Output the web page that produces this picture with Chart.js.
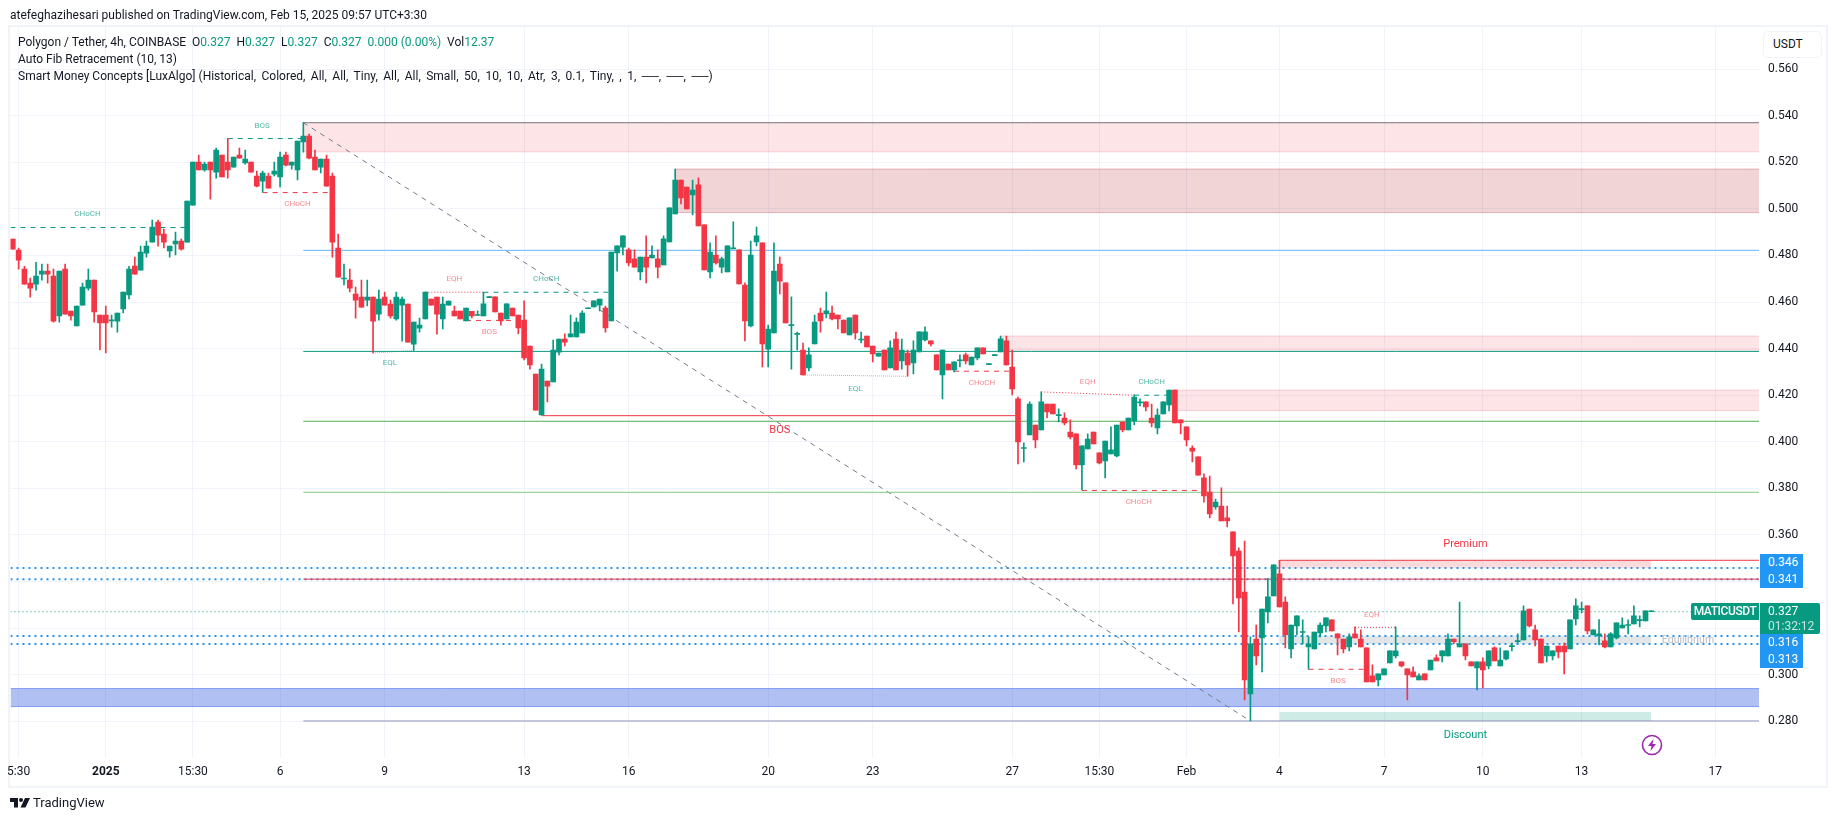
<!DOCTYPE html>
<html>
<head>
<meta charset="utf-8">
<title>MATICUSDT</title>
<script src="https://cdn.jsdelivr.net/npm/chart.js@4"></script>
<style>
    html, body { margin: 0; padding: 0; background: #fff; }
    body { width: 1835px; height: 821px; position: relative; overflow: hidden; font-family: Roboto, sans-serif; font-size: 12px; color: #131722; }
    #chart { position: absolute; left: 0; top: 0; }
    .txt { position: absolute; white-space: nowrap; line-height: 16px; }
    .g { color: #089981; }
    .frame { position: absolute; left: 8px; top: 25px; width: 1816px; height: 759px; border: 2px solid #f0f3fa; }
    .unit { position: absolute; left: 1763px; top: 31px; width: 57px; height: 25px; border: 1px solid #f0f3fa; border-radius: 5px; line-height: 25px; text-indent: 9px; background: #fff; }
    .tag { position: absolute; left: 1760px; width: 43px; height: 17px; line-height: 17px; background: #2196f3; color: #fff; text-indent: 8px; }
    .last { position: absolute; left: 1760px; top: 603px; width: 60px; height: 31px; background: #089981; color: #fff; padding: 1px 0 0 8px; border-radius: 0 2px 2px 0; line-height: 15px; box-sizing: border-box; }
    .last span { color: #c4e6df; }
    .sym { position: absolute; left: 1691px; top: 603px; width: 68px; height: 17px; line-height: 17px; background: #089981; color: #fff; text-align: center; font-weight: 500; letter-spacing: -0.4px; border-radius: 2px 0 0 2px; }
</style>
</head>
<body>
<div class="frame"></div>
<canvas id="chart" width="1835" height="821"></canvas>

<div class="txt" style="left:10px;top:7px">atefeghazihesari published on TradingView.com, Feb 15, 2025 09:57 UTC+3:30</div>
<div class="txt" style="left:18px;top:34px">Polygon / Tether, 4h, COINBASE &nbsp;O<span class="g">0.327</span> &nbsp;H<span class="g">0.327</span> &nbsp;L<span class="g">0.327</span> &nbsp;C<span class="g">0.327</span> &nbsp;<span class="g">0.000 (0.00%)</span> &nbsp;Vol<span class="g">12.37</span></div>
<div class="txt" style="left:18px;top:51px">Auto Fib Retracement (10, 13)</div>
<div class="txt" style="left:18px;top:68px">Smart Money Concepts [LuxAlgo] <span style="word-spacing:2.5px">(Historical, Colored, All, All, Tiny, All, All, Small, 50, 10, 10, Atr, 3, 0.1, Tiny, , 1, ──, ──, ──)</span></div>

<div class="unit">USDT</div>
<div class="tag" style="top:554px">0.346</div>
<div class="tag" style="top:571px">0.341</div>
<div class="tag" style="top:634px">0.316</div>
<div class="tag" style="top:651px">0.313</div>
<div class="sym">MATICUSDT</div>
<div class="last">0.327<br><span>01:32:12</span></div>

<svg style="position:absolute;left:1640px;top:733px" width="24" height="24" viewBox="0 0 24 24">
    <circle cx="12" cy="12" r="9.5" fill="#fff" stroke="#9c27b0" stroke-width="1.6"/>
    <path d="M13.5 6 L8 13 H11.5 L10.5 18 L16 11 H12.5 Z" fill="#9c27b0"/>
</svg>
<svg style="position:absolute;left:10px;top:798px" width="20" height="10" viewBox="0 0 20 10">
    <path d="M0 0 H8 V9.5 H4 V4 H0 Z M15 0 H20 L15.5 9.5 H10.5 Z" fill="#131722"/>
    <circle cx="11" cy="2" r="2" fill="#131722"/>
</svg>
<div class="txt" style="left:33px;top:795px;font-size:13px">TradingView</div>

<script>
// candles, oldest first
const opens = [
    .4870,.4823,.4741,.4681,.4677,.4720,.4733,.4711,.4540,.4741,.4561,.4497,.4587,.4660,.4694,.4544,.4544,.4519,.4518,.4570,
    .4630,.4754,.4737,.4810,.4857,.4943,.4892,.4819,.4849,.4862,.4857,.5016,.5201,.5167,.5201,.5158,.5231,.5201,.5179,.5231,
    .5197,.5201,.5141,.5119,.5141,.5149,.5137,.5231,.5188,.5167,.5287,.5313,.5222,.5179,.5214,.5141,.4832,.4699,.4694,.4634,
    .4621,.4608,.4621,.4548,.4621,.4591,.4527,.4587,.4591,.4419,.4488,.4527,.4613,.4621,.4527,.4587,.4561,.4561,.4519,.4560,
    .4542,.4540,.4619,.4622,.4553,.4527,.4574,.4544,.4523,.4411,.4291,.4115,.4261,.4257,.4385,.4441,.4450,.4450,.4467,.4571,
    .4579,.4587,.4574,.4519,.4811,.4836,.4824,.4785,.4729,.4793,.4789,.4785,.4759,.4858,.4978,.5124,.5094,.5060,.5103,.4931,
    .4729,.4802,.4750,.4729,.4828,.4824,.4673,.4497,.4858,.4854,.4398,.4467,.4763,.4682,.4499,.4461,.4394,.4317,.4420,.4553,
    .4549,.4553,.4544,.4523,.4459,.4544,.4437,.4454,.4411,.4368,.4394,.4317,.4441,.4347,.4381,.4338,.4386,.4437,.4433,.4373,
    .4287,.4334,.4308,.4348,.4373,.4330,.4360,.4403,.4331,.4370,.4386,.4433,.4321,.4184,.3971,.4029,.4072,.4051,.4162,.4162,
    .4112,.4102,.4042,.4034,.3900,.3969,.4042,.3952,.3918,.3948,.3939,.4085,.4051,.4089,.4167,.4171,.4102,.4059,.4119,.4158,
    .4222,.4094,.4064,.3973,.3935,.3845,.3784,.3720,.3724,.3673,.3613,.3531,.3355,.2917,.3153,.3158,.3269,.3338,.3433,.3312,
    .3110,.3209,.3181,.3119,.3110,.3179,.3209,.3235,.3175,.3153,.3119,.3175,.3153,.3115,.2995,.2977,.2999,.3050,.3080,.3055,
    .3025,.3012,.2977,.3003,.3020,.3072,.3080,.3080,.3153,.3119,.3132,.3055,.3029,.3055,.3037,.3115,.3037,.3067,.3120,.3142,
    .3149,.3282,.3192,.3153,.3080,.3080,.3123,.3123,.3110,.3239,.3279,.3295,.3171,.3166,.3145,.3119,.3158,.3201,.3211,.3218,
    .3232,.3231,.3270
];
const highs = [
    .4870,.4832,.4753,.4703,.4771,.4763,.4763,.4741,.4733,.4763,.4561,.4583,.4681,.4741,.4694,.4544,.4583,.4544,.4553,.4643,
    .4753,.4793,.4840,.4862,.4952,.4952,.4913,.4840,.4900,.4870,.5034,.5201,.5231,.5201,.5201,.5261,.5231,.5303,.5222,.5261,
    .5253,.5201,.5162,.5162,.5154,.5201,.5244,.5244,.5201,.5291,.5371,.5321,.5253,.5214,.5231,.5154,.4892,.4763,.4741,.4664,
    .4694,.4694,.4621,.4651,.4643,.4608,.4643,.4621,.4591,.4514,.4531,.4643,.4613,.4621,.4621,.4604,.4583,.4561,.4574,.4560,
    .4562,.4642,.4622,.4622,.4553,.4592,.4574,.4544,.4605,.4411,.4291,.4334,.4261,.4437,.4441,.4463,.4544,.4532,.4562,.4574,
    .4605,.4613,.4583,.4815,.4841,.4884,.4832,.4824,.4793,.4884,.4841,.4824,.4884,.5004,.5171,.5124,.5094,.5124,.5133,.4931,
    .4854,.4884,.4793,.4841,.4944,.4824,.4682,.4862,.4922,.4854,.4501,.4854,.4793,.4682,.4622,.4471,.4424,.4403,.4544,.4574,
    .4643,.4583,.4544,.4523,.4532,.4544,.4471,.4454,.4411,.4381,.4394,.4433,.4471,.4441,.4394,.4433,.4472,.4493,.4433,.4373,
    .4394,.4334,.4343,.4373,.4381,.4364,.4403,.4403,.4334,.4373,.4454,.4454,.4394,.4192,.3995,.4171,.4072,.4214,.4162,.4162,
    .4141,.4124,.4094,.4034,.3982,.4034,.4042,.3952,.4003,.4064,.4072,.4085,.4102,.4201,.4184,.4171,.4162,.4141,.4171,.4222,
    .4222,.4094,.4064,.3982,.3935,.3862,.3853,.3754,.3802,.3724,.3613,.3544,.3574,.3162,.3213,.3282,.3414,.3471,.3491,.3334,
    .3213,.3252,.3235,.3162,.3183,.3222,.3244,.3235,.3175,.3153,.3175,.3205,.3192,.3115,.3042,.3003,.3025,.3102,.3205,.3055,
    .3025,.3033,.3003,.3003,.3063,.3085,.3102,.3175,.3153,.3312,.3132,.3055,.3055,.3072,.3102,.3119,.3115,.3102,.3136,.3175,
    .3295,.3282,.3213,.3153,.3123,.3102,.3123,.3136,.3235,.3325,.3312,.3295,.3192,.3236,.3175,.3181,.3222,.3244,.3235,.3295,
    .3252,.3274,.3274
];
const lows = [
    .4827,.4741,.4677,.4621,.4651,.4694,.4681,.4514,.4514,.4548,.4522,.4497,.4587,.4651,.4514,.4394,.4381,.4492,.4471,.4553,
    .4613,.4720,.4737,.4793,.4857,.4840,.4832,.4793,.4802,.4823,.4857,.5016,.5167,.5162,.5042,.5132,.5137,.5132,.5179,.5218,
    .5192,.5158,.5094,.5072,.5089,.5141,.5094,.5184,.5171,.5124,.5244,.5214,.5167,.5154,.5098,.4793,.4707,.4673,.4643,.4531,
    .4578,.4583,.4381,.4522,.4587,.4531,.4522,.4432,.4428,.4392,.4471,.4527,.4587,.4462,.4484,.4587,.4540,.4527,.4519,.4532,
    .4542,.4540,.4619,.4557,.4501,.4527,.4540,.4463,.4351,.4312,.4136,.4115,.4171,.4257,.4373,.4411,.4450,.4450,.4467,.4571,
    .4579,.4562,.4471,.4519,.4733,.4802,.4755,.4750,.4695,.4682,.4789,.4703,.4759,.4858,.4978,.5021,.5000,.4974,.4927,.4738,
    .4703,.4763,.4725,.4729,.4828,.4678,.4433,.4493,.4841,.4321,.4321,.4467,.4635,.4510,.4312,.4394,.4287,.4304,.4420,.4471,
    .4532,.4523,.4484,.4467,.4459,.4441,.4424,.4407,.4343,.4368,.4308,.4317,.4308,.4312,.4282,.4291,.4386,.4433,.4411,.4308,
    .4184,.4308,.4300,.4321,.4334,.4330,.4351,.4377,.4331,.4370,.4386,.4330,.4201,.3905,.3913,.4029,.3973,.4051,.4102,.4119,
    .4085,.4072,.4012,.3883,.3793,.3969,.3991,.3905,.3845,.3948,.3935,.4042,.4051,.4072,.4154,.4132,.4064,.4034,.4119,.4132,
    .4081,.4034,.3982,.3913,.3857,.3741,.3673,.3711,.3660,.3634,.3304,.3183,.2891,.2801,.3042,.3012,.3222,.3338,.3291,.3115,
    .3072,.3171,.3132,.3023,.3110,.3162,.3183,.3188,.3085,.3093,.3102,.3158,.3119,.2969,.2969,.2952,.2999,.3050,.3072,.3033,
    .2891,.2990,.2977,.2977,.3020,.3059,.3055,.3080,.3132,.3119,.3063,.3037,.2934,.2943,.3025,.3059,.3037,.3063,.3102,.3135,
    .3149,.3205,.3123,.3050,.3055,.3063,.3072,.3003,.3110,.3213,.3265,.3175,.3171,.3128,.3115,.3119,.3153,.3201,.3175,.3218,
    .3205,.3231,.3270
];
const closes = [
    .4827,.4780,.4677,.4660,.4711,.4733,.4720,.4518,.4733,.4548,.4540,.4583,.4664,.4694,.4557,.4510,.4510,.4522,.4553,.4643,
    .4741,.4720,.4814,.4840,.4922,.4887,.4857,.4840,.4862,.4827,.5034,.5201,.5167,.5192,.5167,.5253,.5137,.5167,.5222,.5218,
    .5214,.5158,.5098,.5154,.5089,.5162,.5222,.5188,.5201,.5291,.5313,.5218,.5167,.5214,.5098,.4857,.4707,.4703,.4660,.4608,
    .4578,.4621,.4518,.4613,.4587,.4540,.4621,.4613,.4428,.4514,.4501,.4643,.4587,.4548,.4591,.4604,.4540,.4527,.4574,.4540,
    .4544,.4592,.4622,.4557,.4519,.4592,.4540,.4489,.4360,.4330,.4136,.4312,.4239,.4394,.4441,.4428,.4463,.4514,.4553,.4574,
    .4605,.4613,.4489,.4815,.4841,.4884,.4768,.4750,.4793,.4750,.4802,.4750,.4871,.5004,.5124,.5047,.5000,.5081,.4927,.4738,
    .4815,.4768,.4785,.4841,.4831,.4678,.4519,.4802,.4884,.4420,.4484,.4733,.4690,.4510,.4501,.4464,.4287,.4373,.4514,.4519,
    .4562,.4527,.4527,.4467,.4532,.4467,.4440,.4407,.4377,.4381,.4308,.4403,.4308,.4394,.4330,.4394,.4472,.4472,.4420,.4308,
    .4394,.4308,.4343,.4351,.4347,.4364,.4403,.4377,.4334,.4373,.4442,.4330,.4227,.3999,.3973,.4162,.4008,.4171,.4128,.4119,
    .4115,.4081,.4021,.3900,.3982,.4012,.3991,.3909,.4003,.3965,.4072,.4051,.4102,.4192,.4170,.4150,.4081,.4115,.4171,.4222,
    .4081,.4081,.4008,.3960,.3857,.3767,.3690,.3741,.3660,.3660,.3510,.3329,.2977,.3132,.3080,.3282,.3334,.3471,.3291,.3171,
    .3213,.3252,.3183,.3132,.3183,.3213,.3244,.3188,.3158,.3110,.3162,.3158,.3119,.2969,.2969,.3003,.3025,.3102,.3102,.3037,
    .2999,.2990,.2995,.2977,.3063,.3059,.3102,.3153,.3141,.3132,.3080,.3037,.3055,.3020,.3102,.3059,.3063,.3102,.3123,.3145,
    .3274,.3209,.3149,.3050,.3123,.3102,.3098,.3098,.3235,.3295,.3282,.3188,.3192,.3175,.3119,.3175,.3222,.3213,.3213,.3252,
    .3235,.3274,.3274
];

// time axis, positions are bar numbers
const tickBars = [1, 16, 31, 46, 64, 88, 106, 130, 148, 172, 187, 202, 218, 236, 253, 270, 293];
const tickLabels = ['5:30', '2025', '15:30', '6', '9', '13', '16', '20', '23', '27', '15:30', 'Feb', '4', '7', '10', '13', '17'];
const boldTicks = ['2025'];

// price axis
const priceTicks = [.28, .30, .32, .34, .36, .38, .40, .42, .44, .46, .48, .50, .52, .54, .56];

// auto fib levels, all start at the swing high bar
const fibStart = 50;
const fibLevels = [.5370, .4822, .4388, .4088, .3783, .3410, .2801];
const fibColors = ['#787b86', '#64b5f6', '#089981', '#4caf50', '#81c784', '#f23645', '#8f94b5'];

// dotted price lines
const alertLevels = [.3458, .3410, .3166, .3132];
const lastPrice = .3270;

// order blocks and premium/discount zones
const zoneStart = [50, 114, 170, 199.6, 218, 218, 218, -0.4];
const zoneEnd = [300.6, 300.6, 300.6, 300.6, 282, 282, 282, 300.6];
const zoneTop = [.5370, .5171, .4454, .4222, .3491, .3166, .2840, .2940];
const zoneBottom = [.5245, .4984, .4394, .4134, .3458, .3132, .2801, .2863];
const zoneFill = ['rgba(242,54,69,.13)', 'rgba(178,40,51,.2)', 'rgba(242,54,69,.13)', 'rgba(242,54,69,.13)', 'rgba(242,54,69,.18)', 'rgba(120,123,134,.2)', 'rgba(8,153,129,.2)', 'rgba(41,84,220,.37)'];
const zoneEdge = ['rgba(242,54,69,.2)', 'rgba(178,40,51,.3)', 'rgba(242,54,69,.2)', 'rgba(242,54,69,.2)', null, null, null, '#7f9cf0'];

// market structure lines
const structFrom = [-0.4, 37, 43, 62, 71, 78, 81, 91, 136, 162, 177, 193, 184, 231, 223, 218];
const structTo = [30, 50, 55, 69, 81, 88, 103, 173, 154, 172, 193, 199, 204, 238, 233, 300.6];
const structY0 = [.4920, .5302, .5070, .4381, .4642, .4521, .4642, .4112, .4287, .4303, .4214, .4200, .3791, .3203, .3023, .3491];
const structY1 = [.4920, .5302, .5070, .4392, .4642, .4521, .4642, .4112, .4281, .4303, .4200, .4200, .3791, .3203, .3023, .3491];
const structKind = ['gd', 'gd', 'rd', 'gp', 'rp', 'rd', 'gd', 'rs', 'gp', 'rd', 'rp', 'gd', 'rd', 'rp', 'rd', 'rs'];

// labels on the chart
const noteText = ['CHoCH', 'BOS', 'CHoCH', 'EQL', 'EQH', 'BOS', 'CHoCH', 'BOS', 'EQL', 'CHoCH', 'EQH', 'CHoCH', 'CHoCH', 'EQH', 'BOS', 'Premium', 'Discount', 'Equilibrium'];
const noteBar = [12.85, 42.9, 49, 64.9, 76, 82, 91.8, 132, 145, 166.8, 185, 196, 193.8, 233.9, 228.1, 250, 250, 288.3];
const notePrice = [.4976, .5354, .5019, .4339, .4698, .4470, .4698, .4049, .4228, .4251, .4255, .4255, .3740, .3255, .2972, .3558, .2738, .3145];
const noteKind = ['g', 'g', 'r', 'g', 'r', 'r', 'g', 'R', 'g', 'r', 'r', 'g', 'r', 'r', 'r', 'R', 'G', 'e'];

const UP = '#089981', DOWN = '#f23645';

function seg(x0, y0, x1, y1, color, width, dash) {
    return {
        type: 'line', data: [{ x: x0, y: y0 }, { x: x1, y: y1 }],
        borderColor: color, borderWidth: width, borderDash: dash || [],
        pointRadius: 0, fill: false, order: 20,
    };
}

const lineStyles = {
    gd: [UP, 1, [5, 5]],
    rd: [DOWN, 1, [5, 5]],
    gp: ['#7fcfbf', 1, [1, 1]],
    rp: [DOWN, 1, [1, 2]],
    rs: [DOWN, 1, []],
};

const datasets = [];

// bodies first so they are on top, wicks under them
const isUp = closes.map((c, i) => c >= opens[i]);
const barColors = isUp.map(u => (u ? UP : DOWN));
datasets.push({
    type: 'bar', data: opens.map((o, i) => ({ x: i, y: [Math.min(o, closes[i]), Math.max(o, closes[i])] })),
    backgroundColor: barColors, barThickness: 5, minBarLength: 1, order: 1,
});
datasets.push({
    type: 'bar', data: lows.map((l, i) => ({ x: i, y: [l, highs[i]] })),
    backgroundColor: barColors, barThickness: 1, minBarLength: 1, order: 2,
});

fibLevels.forEach((lv, i) => {
    datasets.push(seg(fibStart, lv, 300.6, lv, fibColors[i], 1));
});
alertLevels.forEach(lv => {
    datasets.push(seg(-0.4, lv, 300.6, lv, '#2196f3', 2, [2, 4]));
});
datasets.push(seg(-0.4, lastPrice, 300.6, lastPrice, UP, 1, [1, 3]));
datasets.push(seg(fibStart, fibLevels[0], 213, fibLevels[fibLevels.length - 1], '#787b86', 1, [5, 5]));

structFrom.forEach((from, i) => {
    const s = lineStyles[structKind[i]];
    datasets.push(seg(from, structY0[i], structTo[i], structY1[i], s[0], s[1], s[2]));
});

zoneStart.forEach((from, i) => {
    datasets.push({
        type: 'line', data: [{ x: from, y: zoneTop[i] }, { x: zoneEnd[i], y: zoneTop[i] }],
        borderWidth: 0, pointRadius: 0, fill: { value: zoneBottom[i] },
        backgroundColor: zoneFill[i], order: 30,
    });
    if (zoneEdge[i]) {
        datasets.push(seg(from, zoneTop[i], zoneEnd[i], zoneTop[i], zoneEdge[i], 1));
        datasets.push(seg(from, zoneBottom[i], zoneEnd[i], zoneBottom[i], zoneEdge[i], 1));
    }
});

// small texts next to the structure lines
const notesPlugin = {
    id: 'notes',
    afterDatasetsDraw(chart) {
        const { ctx, scales } = chart;
        const noteFonts = { g: '8px Roboto', r: '8px Roboto', e: '10.5px Roboto', R: '11px Roboto', G: '11px Roboto' };
        const noteColors = { g: 'rgba(8,153,129,.7)', r: 'rgba(242,54,69,.6)', e: '#b8bbc4', R: DOWN, G: UP };
        ctx.save();
        ctx.textAlign = 'center';
        ctx.textBaseline = 'middle';
        noteText.forEach((t, i) => {
            ctx.font = noteFonts[noteKind[i]];
            ctx.fillStyle = noteColors[noteKind[i]];
            ctx.fillText(t, scales.x.getPixelForValue(noteBar[i]), scales.y.getPixelForValue(notePrice[i]));
        });
        ctx.restore();
    },
};

Chart.defaults.font.family = 'Roboto, sans-serif';
Chart.defaults.font.size = 12;
Chart.defaults.color = '#131722';

new Chart(document.getElementById('chart'), {
    type: 'bar',
    data: { datasets },
    plugins: [notesPlugin],
    options: {
        responsive: false, animation: false, events: [],
        layout: { padding: { left: 10, top: 27, right: 10, bottom: 35 } },
        plugins: { legend: { display: false }, tooltip: { enabled: false } },
        datasets: { bar: { grouped: false }, line: { tension: 0 } },
        scales: {
            x: {
                type: 'linear', bounds: 'data', offset: false, min: -0.4, max: 300.53,
                grid: { color: '#f0f3fa', drawTicks: false, offset: false },
                border: { display: false },
                afterBuildTicks: axis => { axis.ticks = tickBars.map(v => ({ value: v })); },
                afterFit: axis => { axis.height = 28; },
                ticks: {
                    autoSkip: false, maxRotation: 0, padding: 7,
                    callback: v => tickLabels[tickBars.indexOf(v)],
                    font: ctx => ({ weight: boldTicks.includes(ctx.tick && tickLabels[tickBars.indexOf(ctx.tick.value)]) ? 'bold' : 'normal' }),
                },
            },
            y: {
                position: 'right', bounds: 'data', min: 0.2642, max: 0.5781,
                grid: { color: '#f0f3fa', drawTicks: false },
                border: { display: false },
                afterBuildTicks: axis => { axis.ticks = priceTicks.map(v => ({ value: v })); },
                afterFit: axis => { axis.width = 66; },
                ticks: { autoSkip: false, padding: 9, callback: v => v.toFixed(3) },
            },
        },
    },
});
</script>
</body>
</html>
